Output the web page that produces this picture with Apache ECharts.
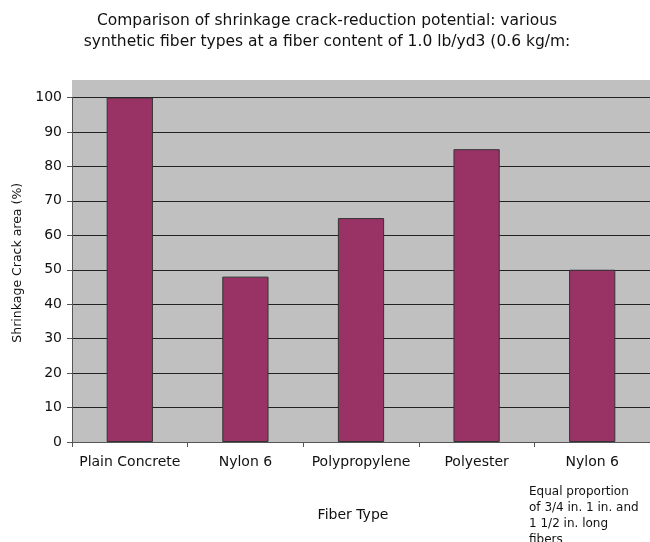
<!DOCTYPE html>
<html>
<head>
<meta charset="utf-8">
<script src="https://cdn.jsdelivr.net/npm/echarts@6/dist/echarts.min.js"></script>
<style>
html,body{margin:0;padding:0;background:#fff;}
#chart{width:650px;height:542px;}
</style>
</head>
<body>
<div id="chart"></div>
<script>
const categories = ['Plain Concrete', 'Nylon 6', 'Polypropylene', 'Polyester', 'Nylon 6'];
const crackArea = [100, 48, 65, 85, 50];
const titleLines = ['Comparison of shrinkage crack-reduction potential: various', 'synthetic fiber types at a fiber content of 1.0 lb/yd3 (0.6 kg/m:'];
const yAxisTitle = 'Shrinkage Crack area (%)';
const xAxisTitle = 'Fiber Type';
const noteLines = ['Equal proportion', 'of 3/4 in. 1 in. and', '1 1/2 in. long', 'fibers'];

const FONT = '"DejaVu Sans", "Liberation Sans", Arial, sans-serif';
const chart = echarts.init(document.getElementById('chart'), null, {renderer: 'canvas'});
chart.setOption({
  animation: false,
  backgroundColor: '#ffffff',
  textStyle: {fontFamily: FONT},
  title: [
    {text: titleLines.join('\n'), left: 322, top: 5, textAlign: 'center',
     textStyle: {fontFamily: FONT, fontSize: 15.5, fontWeight: 'normal', color: '#111', lineHeight: 21}},
    {text: xAxisTitle, left: 348, top: 503, textAlign: 'center',
     textStyle: {fontFamily: FONT, fontSize: 14, fontWeight: 'normal', color: '#111'}},
    {text: noteLines.join('\n'), left: 524, top: 479,
     textStyle: {fontFamily: FONT, fontSize: 12, fontWeight: 'normal', color: '#111', lineHeight: 16}}
  ],
  grid: [
    {left: 72, right: -4, top: 80, bottom: 100, show: true, backgroundColor: '#c0c0c0', borderWidth: 0},
    {left: 72, right: -4, top: 97.5, bottom: 100}
  ],
  xAxis: [
    {gridIndex: 0, type: 'value', show: false},
    {gridIndex: 1, type: 'category', data: categories,
     axisLine: {lineStyle: {color: '#555', width: 1}},
     axisTick: {show: true, length: 5, interval: 0, lineStyle: {color: '#555'}},
     axisLabel: {color: '#111', fontSize: 14, margin: 13, interval: 0, hideOverlap: false, fontFamily: FONT},
     splitLine: {show: false}}
  ],
  yAxis: [
    {gridIndex: 0, type: 'value', show: false},
    {gridIndex: 1, type: 'value', min: 0, max: 100, interval: 10,
     name: yAxisTitle, nameLocation: 'middle', nameGap: 47, nameRotate: 90,
     nameTextStyle: {fontFamily: FONT, fontSize: 12.5, color: '#111', padding: [0, 0, 0, 14]},
     axisLine: {show: true, lineStyle: {color: '#555', width: 1}},
     axisTick: {show: true, length: 5, lineStyle: {color: '#555'}},
     axisLabel: {color: '#111', fontSize: 14, margin: 10, fontFamily: FONT},
     splitLine: {show: true, lineStyle: {color: '#222', width: 1}}}
  ],
  series: [{
    type: 'bar', xAxisIndex: 1, yAxisIndex: 1,
    data: crackArea, barWidth: '40%',
    itemStyle: {color: '#993366', borderColor: '#333', borderWidth: 1}
  }]
});
</script>
</body>
</html>
